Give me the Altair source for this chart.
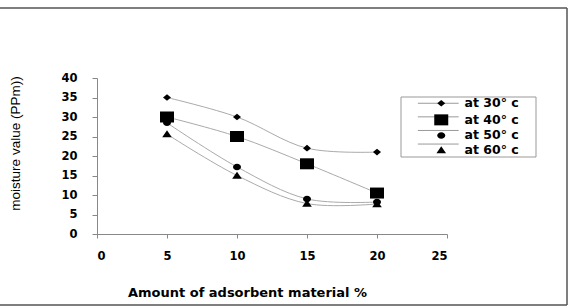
import altair as alt
import pandas as pd

amount = [5, 10, 15, 20]
series_names = ["at 30° c", "at 40° c", "at 50° c", "at 60° c"]
t30 = [35, 30, 22, 21]
t40 = [30, 25, 18, 10.5]
t50 = [28.5, 17.2, 9, 8.2]
t60 = [25.6, 15, 7.8, 7.7]

rows = []
for name, vals in zip(series_names, [t30, t40, t50, t60]):
    for a, v in zip(amount, vals):
        rows.append({"amount": a, "value": v, "series": name})
df = pd.DataFrame(rows)

# marker shapes (unit paths, scaled by sqrt(size)/2)
shape_paths = [
    "M-1,0L0,-0.84L1,0L0,0.84Z",
    "M-1.75,-1.375L1.75,-1.375L1.75,1.375L-1.75,1.375Z",
    "M-1,0A1,0.81 0 1,1 1,0A1,0.81 0 1,1 -1,0Z",
    "M0,-0.95L1.2,0.8L-1.2,0.8Z",
]
line_paths = ["M-5.1,0L5.1,0", "M-5.1,0.001L5.1,0.001", "M-5.1,0.002L5.1,0.002", "M-5.1,0.003L5.1,0.003"]

x_scale = alt.Scale(domain=[0, 25], nice=False)
y_scale = alt.Scale(domain=[0, 40], nice=False)

x_axis = alt.Axis(
    values=[0, 5, 10, 15, 20, 25], grid=False, tickSize=4,
    domainColor="#888", tickColor="#888", labelOverlap=False,
    labelFont="DejaVu Sans", labelFontWeight="bold", labelFontSize=11.5,
    labelColor="black", labelPadding=12,
    title="Amount of adsorbent material %", titleFont="DejaVu Sans",
    titleFontWeight="bold", titleFontSize=13, titleColor="black",
    titleX=150, titleY=58, titleAlign="center", titleBaseline="middle",
)
y_axis = alt.Axis(
    values=[0, 5, 10, 15, 20, 25, 30, 35, 40], grid=False, tickSize=5,
    domainColor="#888", tickColor="#888", labelOverlap=False,
    labelFont="DejaVu Sans", labelFontWeight="bold", labelFontSize=11.5,
    labelColor="black", labelPadding=15,
    title="moisture value (PPm))", titleFont="Liberation Sans",
    titleFontWeight="normal", titleFontSize=13.5, titleColor="black",
    titleX=-82, titleY=65, titleAngle=-90, titleAlign="center",
    titleBaseline="middle",
)

X = alt.X("amount:Q", scale=x_scale, axis=x_axis)
Y = alt.Y("value:Q", scale=y_scale, axis=y_axis)

legend_common = dict(
    title=None, orient="none", legendY=19,
    padding=0, rowPadding=0.6, symbolSize=64,
    labelFont="DejaVu Sans", labelFontWeight="bold", labelFontSize=12.5,
    labelOffset=17,
)

base = alt.Chart(df)

lines = base.mark_line(interpolate="catmull-rom", color="#aaa", strokeWidth=1).encode(
    x=X, y=Y, detail="series:N",
)

# legend line segments (drawn beneath the legend markers)
legend_lines = base.transform_filter("false").mark_point(
    filled=False, color="#999", strokeWidth=1, opacity=1, size=64
).encode(
    x=X, y=Y,
    shape=alt.Shape(
        "series:N",
        scale=alt.Scale(domain=series_names, range=line_paths),
        legend=alt.Legend(
            legendX=335, symbolStrokeColor="#999", symbolStrokeWidth=1,
            symbolOpacity=1, labelColor="white", labelOpacity=0,
            labelExpr="' '", **legend_common,
        ),
    ),
)

points = base.mark_point(filled=True, color="black", opacity=1, size=64).encode(
    x=X, y=Y,
    shape=alt.Shape(
        "series:N",
        scale=alt.Scale(domain=series_names, range=shape_paths),
        legend=alt.Legend(
            legendX=338, symbolFillColor="black", symbolOpacity=1,
            labelColor="black", **legend_common,
        ),
    ),
)

box_df = pd.DataFrame({"k": [0]})
legend_box = alt.Chart(box_df).mark_rect(fill="white", stroke="#999", strokeWidth=1).encode(
    x=alt.value(304), x2=alt.value(439), y=alt.value(19), y2=alt.value(79)
)

frame_top = alt.Chart(box_df).mark_rule(color="#555", strokeWidth=1.5).encode(
    x=alt.value(-97), x2=alt.value(470), y=alt.value(-70)
)
frame_right = alt.Chart(box_df).mark_rule(color="#555", strokeWidth=1.5).encode(
    x=alt.value(470), y=alt.value(-70), y2=alt.value(227)
)
frame_bottom = alt.Chart(box_df).mark_rule(color="#555", strokeWidth=1.5).encode(
    x=alt.value(-97), x2=alt.value(470), y=alt.value(227)
)

chart = alt.layer(
    frame_top, frame_right, frame_bottom, legend_box, lines, legend_lines, points
).resolve_scale(shape="independent").properties(
    width=350, height=156,
    padding={"left": 97, "top": 78, "right": 123, "bottom": 74},
    autosize="none", background="white",
).configure_view(strokeWidth=0)

chart.save("out.html", embed_options={"renderer": "svg", "actions": False})
